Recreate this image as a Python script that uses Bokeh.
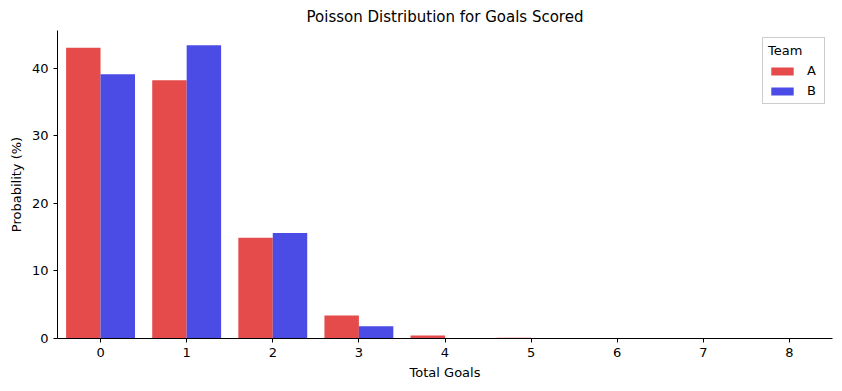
from bokeh.plotting import figure
from bokeh.models import ColumnDataSource, Legend, LegendItem, FixedTicker, Range1d
from bokeh.transform import dodge
from bokeh.embed import file_html
from bokeh.resources import INLINE

goals = [0, 1, 2, 3, 4, 5, 6, 7, 8]
team_a = [43.0, 38.2, 14.9, 3.4, 0.45, 0.12, 0.02, 0.0, 0.0]
team_b = [39.1, 43.4, 15.6, 1.8, 0.08, 0.01, 0.0, 0.0, 0.0]

src = ColumnDataSource(dict(x=goals, a=team_a, b=team_b))

FONT = "DejaVu Sans"
p = figure(width=842, height=391, output_backend="svg", toolbar_location=None,
           x_range=Range1d(-0.5, 8.5), y_range=Range1d(0, max(team_a + team_b) * 1.05),
           min_border_left=57, min_border_right=10, min_border_top=30, min_border_bottom=53)

ra = p.vbar(x=dodge("x", -0.2, range=p.x_range), top="a", width=0.4, source=src,
            fill_color="#E54B4B", line_color=None)
rb = p.vbar(x=dodge("x", 0.2, range=p.x_range), top="b", width=0.4, source=src,
            fill_color="#4B4BE5", line_color=None)

p.title.text = "Poisson Distribution for Goals Scored"
p.title.align = "center"
p.title.text_font = FONT
p.title.text_font_size = "15px"
p.title.text_font_style = "normal"
p.title.text_color = "black"

p.xaxis.axis_label = "Total Goals"
p.yaxis.axis_label = "Probability (%)"
for ax in (p.xaxis, p.yaxis):
    ax.axis_label_text_font = FONT
    ax.axis_label_text_font_size = "13px"
    ax.axis_label_text_font_style = "normal"
    ax.axis_label_text_color = "black"
    ax.major_label_text_font = FONT
    ax.major_label_text_font_size = "13px"
    ax.major_label_text_color = "black"
    ax.minor_tick_line_color = None
    ax.major_tick_out = 4
    ax.major_tick_in = 0
    ax.axis_line_color = "black"
    ax.major_tick_line_color = "black"
p.xaxis.ticker = FixedTicker(ticks=goals)
p.yaxis.ticker = FixedTicker(ticks=[0, 10, 20, 30, 40])
p.xgrid.grid_line_color = None
p.ygrid.grid_line_color = None
p.outline_line_color = None

legend = Legend(items=[LegendItem(label="A", renderers=[ra]), LegendItem(label="B", renderers=[rb])],
                location="top_right", title="Team")
legend.title_text_font = FONT
legend.title_text_font_size = "13px"
legend.title_text_font_style = "normal"
legend.title_text_color = "black"
legend.title_standoff = 5
legend.label_text_font = FONT
legend.label_text_font_size = "13px"
legend.label_text_color = "black"
legend.label_standoff = 11
legend.label_width = 12
legend.border_line_color = "#cccccc"
legend.border_line_alpha = 1
legend.glyph_width = 28
legend.glyph_height = 10
legend.padding = 5
legend.spacing = 5
legend.margin = 7
p.add_layout(legend)

open("out.html", "w").write(file_html(p, INLINE))
